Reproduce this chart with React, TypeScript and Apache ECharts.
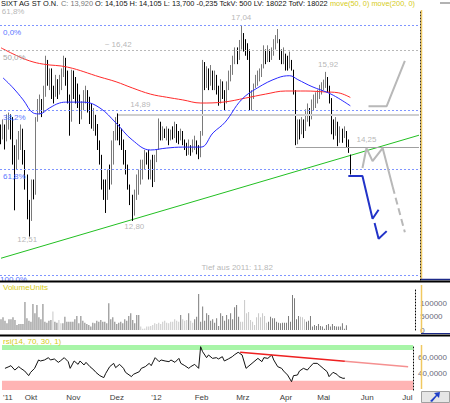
import React, { useEffect, useRef } from 'react';
import * as echarts from 'echarts';

const FONT = 'Liberation Sans, Arial, sans-serif';

// ---- categories: trading days (Sep 16 2011 .. Jul 9 2012) ----
const HOLIDAYS = ['2011-12-26', '2012-04-06', '2012-04-09', '2012-05-01'];
const DAY_COUNT = 208;
function buildDates(): string[] {
  const out: string[] = [];
  const d = new Date(Date.UTC(2011, 8, 16));
  while (out.length < DAY_COUNT) {
    const wd = d.getUTCDay();
    const s = d.toISOString().slice(0, 10);
    if (wd !== 0 && wd !== 6 && HOLIDAYS.indexOf(s) < 0) out.push(s);
    d.setUTCDate(d.getUTCDate() + 1);
  }
  return out;
}
const DATES = buildDates();
const MONTH_TEXT = ["'12", 'Feb', 'Mrz', 'Apr', 'Mai', 'Jun', 'Jul', 'Aug', "'11", 'Okt', 'Nov', 'Dez'];

// ---- price bars [open, close, low, high] ----
const OHLC: number[][] = [
  [14.6,14.45,14.32,14.74],[14.45,14.7,14.42,14.85],[14.7,14.4,14.21,14.74],[14.4,14.8,14.38,14.96],[14.8,14.9,14.63,15.0],
  [14.9,14.6,14.42,14.96],[14.8,14.0,13.9,14.9],[14.0,13.8,13.0,14.3],[13.8,14.3,13.8,14.42],[14.3,14.4,14.0,14.6],
  [14.4,14.6,14.2,14.74],[14.6,14.1,13.9,14.65],[14.1,13.6,13.4,14.2],[13.6,13.1,12.83,13.7],[13.1,12.8,12.51,13.2],
  [12.8,13.4,12.8,13.6],[13.4,13.3,13.21,13.6],[13.3,14.8,13.3,14.9],[14.8,15.0,14.8,15.3],[15.0,15.1,14.96,15.4],
  [15.1,15.0,14.9,15.3],[15.0,15.4,15.0,15.6],[15.4,16.0,15.35,16.3],[16.0,15.7,15.6,16.2],[15.7,15.9,15.5,16.0],
  [15.9,15.5,15.3,16.0],[15.5,15.35,15.2,15.6],[15.35,15.7,15.35,15.85],[15.7,15.45,15.3,15.75],[15.45,15.75,15.4,15.85],
  [15.75,15.9,15.5,16.0],[15.9,16.2,15.8,16.3],[16.2,15.8,15.6,16.25],[15.8,15.3,15.2,15.95],[15.3,14.8,14.5,15.4],
  [14.8,15.8,14.8,15.97],[15.8,15.6,15.3,15.95],[15.6,15.4,15.2,15.8],[15.4,15.2,15.1,15.65],[15.2,14.95,14.75,15.4],
  [14.95,15.1,14.85,15.25],[15.1,15.3,15.05,15.5],[15.3,15.45,15.2,15.6],[15.45,15.2,15.0,15.5],[15.2,15.0,14.75,15.35],
  [15.0,14.8,14.65,15.2],[14.8,14.9,14.6,15.1],[14.9,14.7,14.5,14.95],[14.7,14.3,14.2,14.75],[14.3,14.0,13.9,14.4],
  [14.0,13.5,13.4,14.1],[13.5,13.4,13.2,13.6],[13.4,13.3,12.95,13.6],[13.3,13.6,13.2,13.8],[13.6,13.5,13.4,13.9],
  [13.5,14.2,13.5,14.4],[14.2,14.5,13.9,14.6],[14.5,14.8,14.4,14.9],[14.8,14.7,14.4,14.98],[14.7,14.5,14.3,14.75],
  [14.5,14.4,14.2,14.65],[14.4,14.0,13.9,14.42],[14.0,13.8,13.7,14.2],[13.8,13.45,13.4,13.9],[13.45,13.2,13.1,13.5],
  [13.2,12.95,12.8,13.3],[12.95,13.3,12.9,13.4],[13.3,13.6,13.2,13.7],[13.6,13.7,13.3,13.8],[13.7,13.85,13.5,14.0],
  [13.85,13.95,13.6,14.0],[13.95,14.15,13.8,14.2],[14.15,14.0,13.9,14.15],[14.0,13.7,13.6,14.2],[13.7,13.75,13.6,14.0],
  [14.0,13.55,13.45,14.1],[13.55,14.0,13.55,14.1],[14.0,14.1,13.95,14.2],[14.2,14.75,14.2,14.87],[14.75,14.45,14.4,14.8],
  [14.45,14.55,14.4,14.7],[14.55,14.5,14.45,14.65],[14.5,14.6,14.4,14.7],[14.6,14.4,14.3,14.65],[14.4,14.55,14.4,14.63],
  [14.55,14.5,14.42,14.7],[14.5,14.7,14.45,14.8],[14.7,14.5,14.35,14.75],[14.5,14.45,14.32,14.6],[14.45,14.6,14.4,14.65],
  [14.6,14.35,14.3,14.6],[14.35,14.3,14.2,14.42],[14.3,14.2,14.08,14.35],[14.2,14.25,14.1,14.42],[14.25,14.15,14.08,14.3],
  [14.15,14.3,14.15,14.42],[14.3,14.35,14.2,14.5],[14.35,14.2,14.11,14.4],[14.2,14.15,14.01,14.3],[14.15,14.5,14.05,14.6],
  [14.5,16.05,14.5,16.2],[16.05,15.7,15.5,16.15],[15.7,15.9,15.55,16.05],[15.9,15.65,15.5,16.0],[15.65,15.9,15.6,16.08],
  [15.9,15.55,15.5,15.95],[15.55,15.8,15.5,15.95],[15.8,15.5,15.4,15.85],[15.5,15.2,15.15,15.6],[15.2,15.6,15.2,15.75],
  [15.6,15.4,15.3,15.7],[15.4,15.25,15.05,15.5],[15.25,15.6,15.2,15.7],[15.6,15.8,15.5,15.95],[15.8,15.9,15.7,16.08],
  [15.9,16.25,15.85,16.3],[16.25,16.4,16.1,16.5],[16.4,16.3,16.1,16.5],[16.3,16.6,16.2,16.68],[16.6,16.7,16.45,17.04],
  [16.7,16.5,16.4,16.85],[16.5,16.45,16.3,16.7],[16.45,16.35,16.2,16.6],[16.35,15.2,15.05,16.45],[15.2,15.4,15.05,15.5],
  [15.4,15.6,15.3,15.65],[15.6,15.75,15.55,15.85],[15.75,15.85,15.6,15.95],[15.85,15.95,15.7,16.0],[15.95,16.05,15.8,16.1],
  [16.05,16.3,16.0,16.55],[16.3,16.2,16.1,16.45],[16.2,16.4,16.15,16.55],[16.4,16.25,16.15,16.45],[16.25,16.35,16.2,16.5],
  [16.35,16.5,16.3,16.7],[16.5,16.7,16.45,16.8],[16.7,16.75,16.6,16.95],[16.75,16.4,16.2,16.7],[16.4,16.2,16.1,16.45],
  [16.2,16.3,16.1,16.5],[16.3,16.05,15.95,16.35],[16.05,16.0,15.95,16.3],[16.0,16.15,16.0,16.4],[16.15,15.95,15.95,16.2],
  [15.95,15.5,15.4,15.97],[15.5,14.45,14.3,15.5],[14.45,14.8,14.32,14.85],[14.8,14.6,14.42,14.85],[14.6,14.75,14.53,14.9],
  [14.75,14.6,14.45,14.85],[14.6,14.9,14.6,15.07],[14.9,15.05,14.8,15.2],[15.05,14.85,14.7,15.1],[14.85,15.15,14.85,15.29],
  [15.15,15.25,15.05,15.4],[15.25,15.35,15.1,15.45],[15.35,15.45,15.2,15.51],[15.45,15.5,15.3,15.62],[15.5,15.6,15.4,15.68],
  [15.6,15.65,15.5,15.74],[15.65,15.7,15.55,15.92],[15.7,15.55,15.45,15.8],[15.55,15.35,15.2,15.6],[15.3,14.6,14.53,15.32],
  [14.6,14.5,14.42,14.85],[14.5,14.75,14.5,14.9],[14.75,14.35,14.28,14.8],[14.35,14.55,14.35,14.7],[14.55,14.45,14.35,14.65],
  [14.45,14.55,14.45,14.7],[14.55,14.3,14.25,14.6],[14.35,14.15,14.14,14.42],[14.105,13.92,13.7,14.105],
];

// ---- moving averages [dayIndex, value] ----
const MA200: number[][] = [
  [0,16.49],[7,16.32],[14,16.18],[21,16.10],[33,16.03],[49,15.80],[57,15.69],[65,15.55],[74,15.41],[82,15.34],
  [90,15.28],[99,15.21],[110,15.23],[121,15.32],[131,15.41],[141,15.48],[151,15.48],[160,15.46],[167,15.44],[173,15.334],
];
const MA50: number[][] = [
  [1,15.78],[6,15.55],[11,15.28],[16,14.99],[19,14.97],[24,15.10],[29,15.21],[33,15.23],[41,15.23],[49,15.10],
  [57,14.77],[65,14.41],[74,14.20],[82,14.24],[90,14.26],[99,14.26],[105,14.56],[111,14.79],[119,15.28],[127,15.55],
  [137,15.78],[143,15.83],[147,15.74],[154,15.58],[162,15.44],[167,15.32],[173,15.148],
];

// ---- drawn lines [dayIndex, price] ----
const TREND = [[0, 12.12], [207, 14.51]];
const PROJ_GRAY_UP = [[182, 15.14], [191, 15.14], [200, 16.18]];
const PROJ_GRAY_M = [[179, 13.83], [181, 14.24], [184, 13.97], [189, 14.24], [194, 13.45]];
const PROJ_GRAY_M_DASH = [[194, 13.45], [200, 12.59]];
const PROJ_BLUE_A = [[172, 13.67], [179, 13.67], [184, 12.84], [187, 13.01]];
const PROJ_BLUE_B = [[185, 12.76], [187, 12.47], [191, 12.61]];

const PRICE_TICKS = [12, 13, 14, 15, 16, 17];
const FIB_LEVELS = [17.04, 15.05, 13.81, 11.82];
const FIB_TEXT = ['0,0%', '38,2%', '61,8%', '100,0%'];
const LEVEL_1642 = 16.42;
const SEG_1489 = { from: 58, to: 207, value: 14.96 };
const SEG_1425 = { from: 146, to: 207, value: 14.25 };

const NOTE_TEXT = ['17,04', '~ 16,42', '14,89', '15,92', '14,25', '12,51', '12,80', 'Tief aus 2011: 11,82', '61,8%'];
const NOTE_POS = [[119, 17.25], [58, 16.58], [69, 15.18], [162, 16.09], [181, 14.42], [13, 12.45], [66, 12.69], [117, 11.96], [6, 17.38]];

// ---- volume ----
const VOLUME: number[] = [
  41000,49000,36000,26000,41000,41000,49000,38000,19000,23000, 23000,23000,108000,45000,36000,32000,100000,64000,96000,49000,
  41000,100000,32000,28000,36000,38000,71000,32000,28000,38000, 26000,26000,51000,32000,32000,32000,32000,41000,54000,26000,
  54000,36000,28000,23000,19000,13000,28000,26000,36000,32000, 38000,32000,32000,26000,103000,41000,49000,32000,23000,28000,
  32000,26000,41000,36000,54000,64000,38000,26000,58000,58000, 13000,5000,6000,13000,13000,15000,19000,26000,23000,28000,
  23000,32000,36000,28000,26000,32000,32000,41000,36000,32000, 58000,41000,36000,38000,64000,36000,28000,41000,51000,138000,
  32000,90000,36000,64000,58000,36000,41000,28000,45000,15000, 64000,54000,36000,58000,41000,64000,41000,87000,96000,51000,
  32000,32000,115000,64000,69000,38000,32000,19000,49000,64000, 49000,64000,54000,28000,32000,51000,45000,45000,32000,28000,
  26000,28000,28000,28000,54000,32000,135000,122000,41000,54000, 51000,49000,41000,32000,36000,54000,13000,19000,15000,23000,
  15000,13000,5000,19000,23000,13000,23000,15000,13000,13000, 13000,26000,5000,18022,
];
const VOLUME_LIGHT_RANGES = [[26, 26], [29, 30], [70, 89], [91, 93], [95, 96], [120, 133], [150, 152]];

// ---- RSI [dayIndex, value] ----
const RSI: number[][] = [
  [1,46.1],[3,48.3],[4,49.6],[6,43.9],[8,48.3],[9,46.1],[11,42.6],[13,36.6],[14,40.9],[16,46.1],
  [18,57.0],[19,55.7],[21,57.0],[23,60.0],[24,57.0],[26,58.3],[28,53.9],[29,55.7],[31,60.0],[33,54.8],
  [34,46.1],[36,55.7],[38,51.3],[39,55.7],[41,50.5],[42,53.9],[44,48.3],[46,43.9],[47,40.9],[49,36.6],
  [51,34.0],[52,39.6],[54,48.3],[56,52.6],[57,47.0],[59,51.3],[61,46.1],[62,40.9],[65,35.3],[66,38.3],
  [69,41.8],[70,46.1],[72,48.3],[74,52.6],[75,49.6],[77,60.0],[79,54.8],[80,57.0],[82,55.7],[84,54.8],
  [85,57.0],[87,53.9],[89,59.1],[90,52.6],[92,49.6],[94,46.1],[95,48.3],[97,51.3],[99,46.1],[100,74.3],
  [101,67.8],[103,60.0],[104,63.5],[106,59.1],[108,60.0],[109,58.3],[111,61.3],[112,55.7],[114,58.3],[116,61.3],
  [117,63.5],[119,67.0],[121,63.5],[123,46.1],[124,48.3],[126,52.6],[127,54.8],[129,59.1],[131,54.8],[132,60.0],
  [134,59.1],[136,63.5],[137,57.0],[139,48.3],[141,46.1],[142,42.6],[144,37.4],[146,28.7],[147,36.6],[149,37.4],
  [150,42.6],[152,46.1],[154,43.9],[155,47.0],[157,52.6],[159,52.6],[160,50.5],[162,46.1],[164,41.8],[165,35.3],
  [167,40.9],[169,38.3],[170,35.3],[172,33.1],[173,33.275],
];
const RSI_TREND_A = [[120, 67.0], [173, 55.3]];
const RSI_TREND_B = [[173, 55.3], [205, 48.3]];
const RSI_BANDS = { upper: 70, lower: 30 };

const LAST = { close: 13.92, ma50: 15.148, ma200: 15.334, volume: 18022, rsi: 33.275 };

const comma = (v: number, d: number) => v.toFixed(d).replace('.', ',');

function isLight(i: number) {
  return VOLUME_LIGHT_RANGES.some(([a, b]) => i >= a && i <= b);
}
function monthOf(i: number) {
  return Number(DATES[i].slice(5, 7)) - 1;
}
function showMonthLabel(i: number) {
  return i === 0 || monthOf(i) !== monthOf(i - 1);
}

function boxLine(v: number, text: string, bg: string) {
  return {
    yAxis: v,
    lineStyle: { opacity: 0 },
    label: {
      show: true, position: 'end', distance: 2, formatter: text, color: '#fff',
      backgroundColor: bg, padding: [1, 2, 0, 2], fontSize: 8, fontFamily: FONT,
    },
  };
}

export default function App() {
  const ref = useRef<HTMLDivElement>(null);
  useEffect(() => {
    if (!ref.current) return;
    const chart = echarts.init(ref.current, undefined, { renderer: 'svg' });
    const xAxes = [0, 1, 2].map((g) => ({
      type: 'category', gridIndex: g, data: DATES, boundaryGap: true,
      axisLine: { show: false }, axisTick: { show: false }, splitLine: { show: false },
      axisLabel: g === 2 ? {
        show: true, interval: (i: number) => showMonthLabel(i),
        formatter: (_v: string, i: number) => (i === 0 ? "'11" : MONTH_TEXT[monthOf(i)]),
        align: 'left', margin: 3, fontSize: 8, color: '#404040', fontFamily: FONT,
      } : { show: false },
    }));
    const dotted = { show: true, lineStyle: { color: '#000', type: [1, 2], width: 1 } };
    const lineCommon = { type: 'line', symbol: 'none', silent: true };
    const option: any = {
      animation: false,
      textStyle: { fontFamily: FONT },
      grid: [
        { left: 0, top: 10, width: 420, height: 270 },
        { left: 0, top: 288, width: 420, height: 42 },
        { left: 0, top: 345, width: 420, height: 45 },
      ],
      xAxis: xAxes,
      yAxis: [
        { type: 'log', logBase: 10, gridIndex: 0, position: 'right', min: 11.74, max: 17.428,
          axisLabel: { show: false }, axisTick: { show: false }, splitLine: { show: false }, axisLine: dotted },
        { type: 'value', gridIndex: 1, position: 'right', min: 0, max: 161500, interval: 50000,
          axisTick: { show: false }, splitLine: { show: false }, axisLine: dotted,
          axisLabel: { margin: 5, fontSize: 8, color: '#6a6a7a', showMaxLabel: false,
            formatter: (v: number) => (v <= 100000 ? String(v) : '') } },
        { type: 'value', gridIndex: 2, position: 'right', min: 17.9, max: 76.5, splitNumber: 3,
          axisTick: { show: false }, splitLine: { show: false }, axisLine: dotted,
          axisLabel: { margin: 5, fontSize: 8, color: '#6a6a7a', showMinLabel: false, showMaxLabel: false,
            formatter: (v: number) => (Math.abs(v - 40) < 0.01 || Math.abs(v - 60) < 0.01 ? comma(v, 4) : '') } },
      ],
      series: [
        {
          type: 'candlestick', xAxisIndex: 0, yAxisIndex: 0, data: OHLC, barWidth: 1, silent: true,
          itemStyle: { color: '#b4b4b4', color0: '#000', borderColor: '#7a7a7a', borderColor0: '#000', borderWidth: 1 },
          z: 3,
        },
        {
          ...lineCommon, xAxisIndex: 0, yAxisIndex: 0, data: TREND, lineStyle: { color: '#22c022', width: 1 }, z: 2,
          markLine: {
            silent: true, symbol: ['none', 'none'],
            data: [
              ...FIB_LEVELS.map((v, k) => ({
                yAxis: v,
                lineStyle: { color: '#7f95ff', type: [2, 2], width: 1 },
                label: { show: true, position: 'insideStartBottom', formatter: FIB_TEXT[k], color: '#5a78ff', fontSize: 8,
                  distance: k === FIB_LEVELS.length - 1 ? 0 : 3 },
              })),
              {
                yAxis: LEVEL_1642,
                lineStyle: { color: '#b8b8b8', type: [2, 2], width: 1 },
                label: { show: true, position: 'insideStartBottom', formatter: '50,0%', color: '#a8a8a8', fontSize: 8, distance: 3 },
              },
              [
                { coord: [SEG_1489.from, SEG_1489.value], lineStyle: { color: '#cfcfcf', width: 2, type: 'solid' }, label: { show: false } },
                { coord: [SEG_1489.to, SEG_1489.value] },
              ],
              [
                { coord: [SEG_1425.from, SEG_1425.value], lineStyle: { color: '#a0a0a0', width: 1, type: 'solid' }, label: { show: false } },
                { coord: [SEG_1425.to, SEG_1425.value] },
              ],
            ],
          },
        },
        {
          ...lineCommon, xAxisIndex: 0, yAxisIndex: 0, data: MA200, smooth: 0.4,
          lineStyle: { color: '#ff2a2a', width: 1 }, z: 4,
          markLine: {
            silent: true, symbol: ['none', 'none'],
            data: PRICE_TICKS.map((v) => ({
              yAxis: v, lineStyle: { opacity: 0 },
              label: { show: true, position: 'end', distance: 5, formatter: comma(v, 3), color: '#707070', fontSize: 8 },
            })),
          },
        },
        {
          ...lineCommon, xAxisIndex: 0, yAxisIndex: 0, data: MA50, smooth: 0.4,
          lineStyle: { color: '#2a2aff', width: 1 }, z: 5,
          markLine: {
            silent: true, symbol: ['none', 'none'],
            data: [
              boxLine(LAST.ma200, comma(LAST.ma200, 3), '#ff0000'),
              boxLine(LAST.ma50, comma(LAST.ma50, 3), '#0000ff'),
              boxLine(LAST.close, comma(LAST.close, 3), '#555555'),
            ],
          },
        },
        { ...lineCommon, xAxisIndex: 0, yAxisIndex: 0, data: PROJ_GRAY_UP, lineStyle: { color: '#b8b8b8', width: 2 }, z: 6 },
        { ...lineCommon, xAxisIndex: 0, yAxisIndex: 0, data: PROJ_GRAY_M, lineStyle: { color: '#b8b8b8', width: 2 }, z: 6 },
        { ...lineCommon, xAxisIndex: 0, yAxisIndex: 0, data: PROJ_GRAY_M_DASH, lineStyle: { color: '#b8b8b8', width: 2, type: [7, 4] }, z: 6 },
        { ...lineCommon, xAxisIndex: 0, yAxisIndex: 0, data: PROJ_BLUE_A, lineStyle: { color: '#2233c8', width: 2 }, z: 6 },
        { ...lineCommon, xAxisIndex: 0, yAxisIndex: 0, data: PROJ_BLUE_B, lineStyle: { color: '#2233c8', width: 2 }, z: 6 },
        {
          type: 'scatter', xAxisIndex: 0, yAxisIndex: 0, silent: true, symbolSize: 1,
          itemStyle: { color: 'rgba(0,0,0,0)' }, z: 7,
          data: NOTE_TEXT.map((t, k) => ({ name: t, value: NOTE_POS[k] })),
          label: { show: true, position: 'inside', formatter: '{b}', color: '#a4a4a4', fontSize: 8 },
        },
        {
          type: 'bar', xAxisIndex: 1, yAxisIndex: 1, silent: true, barWidth: 1,
          data: VOLUME.map((v, i) => ({ value: v, itemStyle: { color: isLight(i) ? '#c8c8c8' : '#7c7c7c' } })),
          markLine: { silent: true, symbol: ['none', 'none'], data: [boxLine(LAST.volume, String(LAST.volume), '#444444')] },
        },
        {
          ...lineCommon, xAxisIndex: 2, yAxisIndex: 2, data: RSI, lineStyle: { color: '#111', width: 1 }, z: 4,
          markArea: {
            silent: true,
            data: [
              [{ yAxis: RSI_BANDS.upper, itemStyle: { color: '#a8f5a8' } }, { yAxis: 76.5 }],
              [{ yAxis: 17.9, itemStyle: { color: '#ffb4b4' } }, { yAxis: RSI_BANDS.lower }],
            ],
          },
          markLine: { silent: true, symbol: ['none', 'none'], data: [boxLine(LAST.rsi, comma(LAST.rsi, 4), '#000000')] },
        },
        { ...lineCommon, xAxisIndex: 2, yAxisIndex: 2, data: RSI_TREND_A, lineStyle: { color: '#ee2020', width: 1.5 }, z: 5 },
        { ...lineCommon, xAxisIndex: 2, yAxisIndex: 2, data: RSI_TREND_B, lineStyle: { color: '#f59090', width: 1.5 }, z: 5 },
      ],
      graphic: [
        {
          type: 'text', left: 1, top: 0, z: 50,
          style: {
            text: '{k|SIXT AG ST O.N.} {g|C: 13,920} {k|O: 14,105 H: 14,105 L: 13,700 -0,235 TckV: 500 LV: 18022 TotV: 18022} {y|move(50, 0) move(200, 0)}',
            fontSize: 7.4, fontFamily: FONT,
            rich: {
              k: { fill: '#111', fontSize: 7.4, fontFamily: FONT },
              g: { fill: '#777', fontSize: 7.4, fontFamily: FONT },
              y: { fill: '#d6cc20', fontSize: 7.4, fontFamily: FONT },
            },
          },
        },
        { type: 'text', left: 3, top: 283, z: 50, style: { text: 'VolumeUnits', fill: '#d6cc20', fontSize: 8, fontFamily: FONT } },
        { type: 'text', left: 3, top: 337, z: 50, style: { text: 'rsi(14, 70, 30, 1)', fill: '#d6cc20', fontSize: 8, fontFamily: FONT } },
        { type: 'rect', z: 55, shape: { x: 0, y: 281, width: 420, height: 2 }, style: { fill: '#fff' } },
        { type: 'line', z: 60, shape: { x1: 0, y1: 281.5, x2: 450, y2: 281.5 }, style: { stroke: '#000', lineWidth: 2 } },
        { type: 'line', z: 60, shape: { x1: 0, y1: 335.5, x2: 450, y2: 335.5 }, style: { stroke: '#000', lineWidth: 2 } },
        { type: 'line', z: 40, shape: { x1: 421.5, y1: 10, x2: 421.5, y2: 279 }, style: { stroke: '#f0c860', lineWidth: 1.5 } },
        { type: 'line', z: 40, shape: { x1: 421.5, y1: 285, x2: 421.5, y2: 333 }, style: { stroke: '#f0c860', lineWidth: 1.5 } },
        { type: 'line', z: 40, shape: { x1: 421.5, y1: 345, x2: 421.5, y2: 389 }, style: { stroke: '#f0c860', lineWidth: 1.5 } },
        { type: 'line', z: 40, shape: { x1: 421, y1: 279.5, x2: 450, y2: 279.5 }, style: { stroke: '#1c2a88', lineWidth: 1.5 } },
        { type: 'line', z: 40, shape: { x1: 421, y1: 333.5, x2: 450, y2: 333.5 }, style: { stroke: '#1c2a88', lineWidth: 1 } },
        { type: 'line', z: 40, shape: { x1: 440, y1: 3, x2: 450, y2: 3 }, style: { stroke: '#999', lineWidth: 1.5 } },
        { type: 'rect', z: 40, shape: { x: 421.5, y: 391.5, width: 28, height: 11 }, style: { fill: '#e6e6e6', stroke: '#a0a0a0' } },
        { type: 'polygon', z: 41, shape: { points: [[430, 401], [436, 395], [434, 393], [440, 392], [439, 398], [437, 396], [432, 402]] }, style: { fill: '#2040c8' } },
      ],
    };
    chart.setOption(option);
    return () => chart.dispose();
  }, []);
  return <div ref={ref} style={{ width: 450, height: 403, position: 'absolute', left: 0, top: 0 }} />;
}
